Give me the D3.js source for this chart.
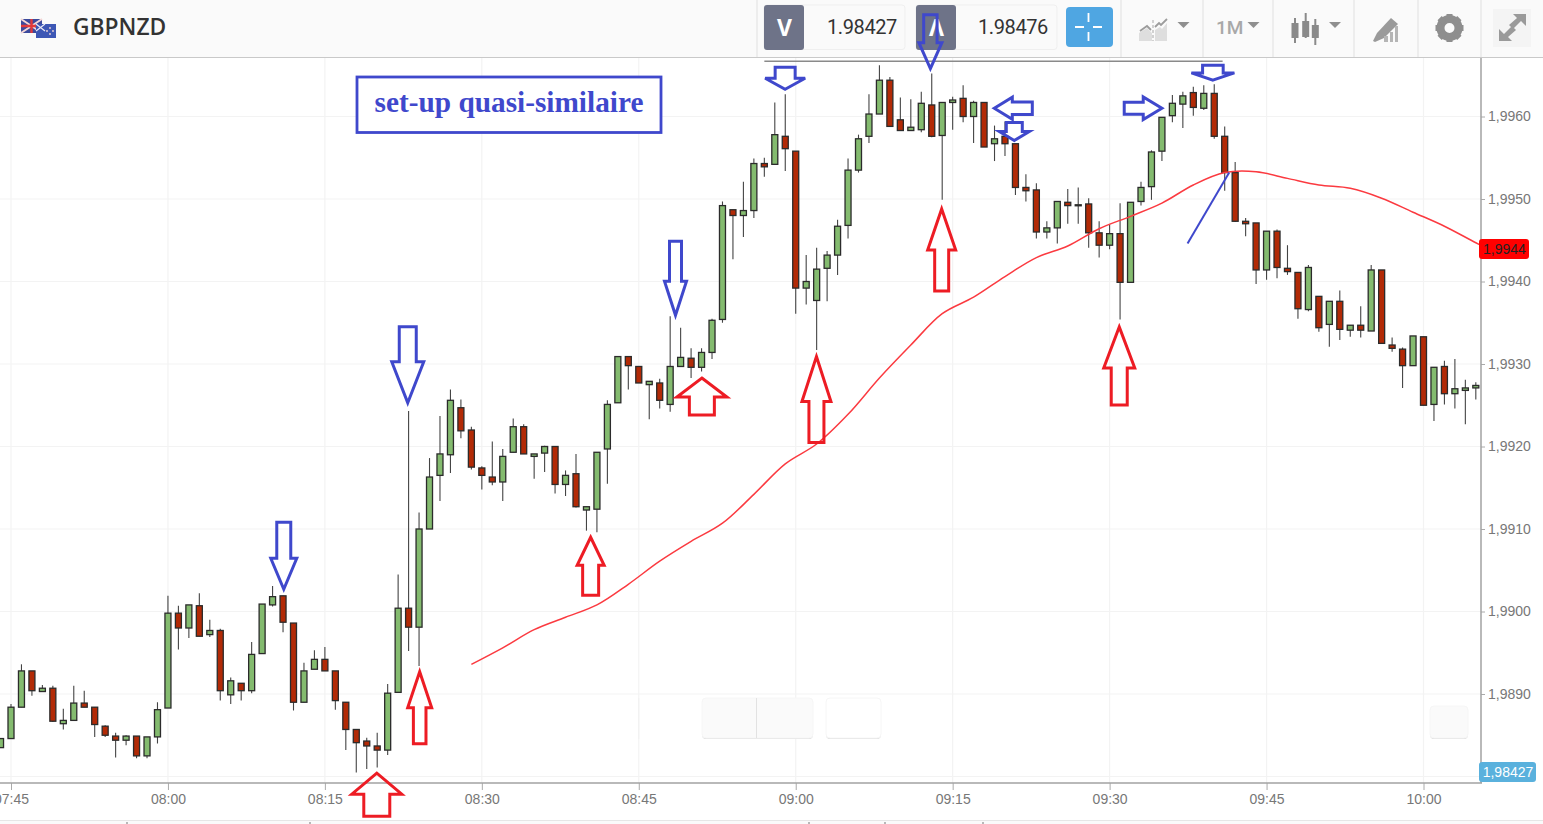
<!DOCTYPE html>
<html lang="en">
<head>
<meta charset="UTF-8">
<title>GBPNZD</title>
<style>
html, body { margin: 0; padding: 0; background: #fff; width: 100%; height: 100%; overflow: hidden; }
svg { display: block; }
</style>
</head>
<body>
<div id="container"></div>
<script src="https://cdnjs.cloudflare.com/ajax/libs/d3/7.8.5/d3.min.js"></script>
<script>
// one candle per minute, first one is 07:44
var opens = [1.98835,1.98846,1.98884,1.98928,1.98903,1.98907,1.98864,1.98868,1.98889,1.98884,1.98861,1.98849,1.98844,1.98849,1.98825,1.98848,1.98883,1.98998,1.98980,1.99007,1.98972,1.98977,1.98899,1.98913,1.98904,1.98949,1.99008,1.99019,1.98986,1.98890,1.98930,1.98942,1.98928,1.98890,1.98857,1.98843,1.98837,1.98832,1.98902,1.99004,1.98981,1.99100,1.99165,1.99190,1.99247,1.99220,1.99174,1.99163,1.99157,1.99193,1.99224,1.99188,1.99192,1.99200,1.99154,1.99167,1.99123,1.99124,1.99197,1.99253,1.99309,1.99297,1.99275,1.99277,1.99251,1.99297,1.99307,1.99296,1.99314,1.99354,1.99487,1.99480,1.99486,1.99543,1.99542,1.99576,1.99558,1.99392,1.99377,1.99416,1.99432,1.99468,1.99535,1.99576,1.99603,1.99644,1.99596,1.99583,1.99584,1.99614,1.99577,1.99617,1.99622,1.99600,1.99617,1.99567,1.99576,1.99567,1.99514,1.99511,1.99460,1.99465,1.99496,1.99492,1.99494,1.99459,1.99444,1.99458,1.99399,1.99497,1.99515,1.99558,1.99601,1.99615,1.99629,1.99610,1.99628,1.99576,1.99532,1.99473,1.99471,1.99414,1.99461,1.99416,1.99411,1.99366,1.99382,1.99348,1.99376,1.99341,1.99347,1.99340,1.99414,1.99323,1.99318,1.99298,1.99333,1.99251,1.99297,1.99264,1.99268,1.99271];
var closes = [1.98846,1.98884,1.98928,1.98904,1.98907,1.98867,1.98868,1.98889,1.98884,1.98863,1.98850,1.98844,1.98849,1.98825,1.98848,1.98881,1.98998,1.98980,1.99008,1.98970,1.98977,1.98904,1.98916,1.98904,1.98948,1.99009,1.99018,1.98987,1.98890,1.98928,1.98942,1.98928,1.98892,1.98857,1.98841,1.98837,1.98832,1.98901,1.99004,1.98981,1.99100,1.99163,1.99191,1.99256,1.99219,1.99175,1.99165,1.99157,1.99188,1.99224,1.99191,1.99191,1.99200,1.99154,1.99165,1.99127,1.99127,1.99193,1.99251,1.99309,1.99298,1.99277,1.99279,1.99256,1.99297,1.99308,1.99296,1.99314,1.99353,1.99492,1.99480,1.99486,1.99543,1.99539,1.99578,1.99561,1.99392,1.99400,1.99415,1.99432,1.99467,1.99535,1.99573,1.99603,1.99644,1.99588,1.99583,1.99587,1.99616,1.99576,1.99617,1.99620,1.99600,1.99617,1.99563,1.99573,1.99567,1.99514,1.99510,1.99460,1.99465,1.99497,1.99492,1.99493,1.99459,1.99444,1.99458,1.99399,1.99496,1.99514,1.99557,1.99599,1.99616,1.99625,1.99611,1.99628,1.99576,1.99532,1.99473,1.99470,1.99414,1.99461,1.99417,1.99412,1.99367,1.99417,1.99344,1.99376,1.99342,1.99347,1.99341,1.99414,1.99325,1.99319,1.99298,1.99334,1.99250,1.99296,1.99264,1.99270,1.99271,1.99274];
var highs = [1.98846,1.98888,1.98936,1.98928,1.98911,1.98910,1.98882,1.98910,1.98904,1.98884,1.98862,1.98853,1.98850,1.98849,1.98848,1.98890,1.99019,1.99007,1.99008,1.99022,1.98990,1.98979,1.98920,1.98913,1.98963,1.99009,1.99031,1.99019,1.98986,1.98938,1.98953,1.98957,1.98928,1.98890,1.98857,1.98847,1.98853,1.98912,1.99045,1.99243,1.99120,1.99186,1.99237,1.99269,1.99257,1.99224,1.99176,1.99206,1.99197,1.99234,1.99227,1.99191,1.99201,1.99200,1.99171,1.99191,1.99127,1.99193,1.99256,1.99309,1.99309,1.99297,1.99279,1.99282,1.99358,1.99344,1.99319,1.99319,1.99355,1.99497,1.99487,1.99521,1.99549,1.99550,1.99617,1.99627,1.99558,1.99432,1.99441,1.99437,1.99475,1.99549,1.99578,1.99627,1.99662,1.99648,1.99623,1.99621,1.99630,1.99652,1.99617,1.99624,1.99638,1.99619,1.99617,1.99589,1.99594,1.99567,1.99530,1.99519,1.99473,1.99497,1.99512,1.99514,1.99501,1.99473,1.99469,1.99495,1.99496,1.99521,1.99559,1.99599,1.99626,1.99630,1.99636,1.99638,1.99639,1.99588,1.99545,1.99477,1.99471,1.99461,1.99463,1.99444,1.99411,1.99420,1.99382,1.99376,1.99389,1.99347,1.99370,1.99420,1.99414,1.99332,1.99320,1.99334,1.99333,1.99296,1.99304,1.99306,1.99281,1.99278];
var lows = [1.98835,1.98846,1.98884,1.98898,1.98903,1.98866,1.98857,1.98868,1.98884,1.98848,1.98848,1.98823,1.98838,1.98822,1.98822,1.98840,1.98883,1.98954,1.98968,1.98970,1.98969,1.98892,1.98888,1.98892,1.98901,1.98949,1.99006,1.98975,1.98880,1.98890,1.98930,1.98928,1.98881,1.98832,1.98805,1.98809,1.98811,1.98826,1.98902,1.98952,1.98934,1.99100,1.99134,1.99168,1.99210,1.99172,1.99148,1.99153,1.99134,1.99193,1.99191,1.99161,1.99169,1.99143,1.99140,1.99126,1.99098,1.99096,1.99155,1.99253,1.99269,1.99277,1.99233,1.99246,1.99242,1.99297,1.99283,1.99291,1.99306,1.99350,1.99427,1.99454,1.99477,1.99527,1.99542,1.99534,1.99361,1.99372,1.99317,1.99376,1.99408,1.99452,1.99532,1.99568,1.99603,1.99588,1.99583,1.99583,1.99581,1.99575,1.99499,1.99584,1.99593,1.99568,1.99563,1.99546,1.99552,1.99505,1.99497,1.99452,1.99452,1.99446,1.99470,1.99470,1.99441,1.99429,1.99439,1.99354,1.99399,1.99492,1.99499,1.99546,1.99593,1.99586,1.99601,1.99608,1.99573,1.99510,1.99472,1.99455,1.99397,1.99402,1.99404,1.99408,1.99355,1.99364,1.99339,1.99321,1.99329,1.99333,1.99332,1.99340,1.99325,1.99315,1.99271,1.99298,1.99250,1.99231,1.99251,1.99246,1.99227,1.99257];

// moving average, minutes after 07:45 and value
var maMinutes = [44,47,50,53,56,59,62,65,68,71,74,77,80,83,86,89,92,95,98,101,104,107,110,113,116,119,122,125,128,131,134,137,140,141];
var maValues = [1.98936,1.98956,1.98978,1.98993,1.99008,1.99033,1.99061,1.99085,1.99107,1.99142,1.99179,1.99203,1.99239,1.99283,1.99323,1.99361,1.99381,1.99406,1.99429,1.99443,1.99464,1.99479,1.99495,1.99517,1.99532,1.99533,1.99525,1.99517,1.99513,1.99501,1.99484,1.99467,1.99447,1.99441];

var priceTicks = [1.9880,1.9890,1.9900,1.9910,1.9920,1.9930,1.9940,1.9950,1.9960];
var timeTickMinutes = [0,15,30,45,60,75,90,105,120,135];
var bidLabel = "1.98427", askLabel = "1.98476", symbol = "GBPNZD";
var maLast = 1.9944, bidTag = "1,98427";

// hand drawn arrows: tip at [minute, price], the rest is shape in px
var blueArrows = [
  {m:26.07, p:1.99027, dir:"down", len:67, sw:7, hw:13, hl:31},
  {m:37.92, p:1.99253, dir:"down", len:76, sw:8.5, hw:16, hl:41},
  {m:63.51, p:1.99359, dir:"down", len:74, sw:6, hw:11, hl:34},
  {m:73.99, p:1.99633, dir:"down", len:22, sw:10, hw:20, hl:11},
  {m:87.87, p:1.99658, dir:"down", len:54, sw:6.7, hw:11.5, hl:26},
  {m:95.89, p:1.99571, dir:"down", len:18, sw:8, hw:15, hl:9},
  {m:114.87, p:1.99644, dir:"down", len:15, sw:10.3, hw:21.5, hl:7.3},
  {m:93.98, p:1.99610, dir:"left", len:38, sw:6.2, hw:11, hl:18},
  {m:110, p:1.99610, dir:"right", len:37.7, sw:6, hw:11.3, hl:18.7}
];
var redArrows = [
  {m:34.96, p:1.98804, dir:"up", len:43, sw:13, hw:25, hl:21},
  {m:39.06, p:1.98927, dir:"up", len:72, sw:6.3, hw:12, hl:36},
  {m:55.4, p:1.99090, dir:"up", len:58, sw:8, hw:13.5, hl:28},
  {m:66.03, p:1.99283, dir:"up", len:37, sw:12.5, hw:25, hl:19},
  {m:76.98, p:1.99309, dir:"up", len:86, sw:7.5, hw:14.5, hl:45},
  {m:88.95, p:1.99488, dir:"up", len:82, sw:7, hw:14, hl:41},
  {m:105.92, p:1.99345, dir:"up", len:78, sw:8, hw:15.5, hl:41}
];

var width = 1543, height = 824;
var plotRight = 1481, plotBottom = 783, plotTop = 58;
var BLUE = "#3f48cc", RED = "#ed1c24", GREY_TXT = "#777";

var svg = d3.select("#container").append("svg").attr("width", width).attr("height", height);

var t0 = new Date(2017, 0, 10, 7, 45);
function atMinute(m) { return new Date(t0.getTime() + m * 60000); }

var x = d3.scaleTime().domain([atMinute(0), atMinute(135)]).range([11, 1423.5]);
var y = d3.scaleLinear().domain([1.9960, 1.9890]).range([116.5, 694]);

var candles = opens.map(function(o, i) {
  return { t: atMinute(i - 1), o: o, c: closes[i], h: highs[i], l: lows[i] };
});

// grid
var grid = svg.append("g");
grid.selectAll("line.h").data(priceTicks).enter().append("line")
  .attr("x1", 0).attr("x2", plotRight)
  .attr("y1", function(d) { return y(d); }).attr("y2", function(d) { return y(d); })
  .attr("stroke", "#f3f3f3").attr("stroke-width", 1.2);
grid.selectAll("line.v").data(timeTickMinutes).enter().append("line")
  .attr("x1", function(d) { return x(atMinute(d)); }).attr("x2", function(d) { return x(atMinute(d)); })
  .attr("y1", plotTop).attr("y2", plotBottom)
  .attr("stroke", "#f3f3f3").attr("stroke-width", 1.2);

// ghost buttons behind the chart
function ghost(bx, by, bw, bh, fill) {
  svg.append("rect").attr("x", bx).attr("y", by + 1).attr("width", bw).attr("height", bh).attr("rx", 4).attr("fill", "#dedede");
  svg.append("rect").attr("x", bx).attr("y", by).attr("width", bw).attr("height", bh).attr("rx", 4)
    .attr("fill", fill).attr("stroke", "#f6f6f6");
}
ghost(702, 698, 111, 40, "#fafafa");
svg.append("line").attr("x1", 756.5).attr("x2", 756.5).attr("y1", 698).attr("y2", 738).attr("stroke", "#e2e2e2");
ghost(826, 698, 55, 40, "#ffffff");
ghost(1430, 706, 38, 32, "#fafafa");
// the grid shows through the middle button
svg.append("line").attr("x1", x(atMinute(60))).attr("x2", x(atMinute(60))).attr("y1", 698).attr("y2", 739).attr("stroke", "#f0f0f0");

// candles
var bodyW = 6;
var cg = svg.append("g").selectAll("g").data(candles).enter().append("g");
cg.append("line")
  .attr("x1", function(d) { return x(d.t); }).attr("x2", function(d) { return x(d.t); })
  .attr("y1", function(d) { return y(d.h); }).attr("y2", function(d) { return y(d.l); })
  .attr("stroke", "#444").attr("stroke-width", 1.1);
cg.append("rect")
  .attr("x", function(d) { return x(d.t) - bodyW / 2; })
  .attr("width", bodyW)
  .attr("y", function(d) { return y(Math.max(d.o, d.c)); })
  .attr("height", function(d) { return Math.max(1, Math.abs(y(d.o) - y(d.c))); })
  .attr("fill", function(d) { return d.c >= d.o ? "#84bb6f" : "#b22a06"; })
  .attr("stroke", "#2b2b2b").attr("stroke-width", 1.3);

// moving average
var maLine = d3.line()
  .x(function(d) { return x(atMinute(d[0])); })
  .y(function(d) { return y(d[1]); })
  .curve(d3.curveCatmullRom);
svg.append("clipPath").attr("id", "plot").append("rect").attr("x", 0).attr("y", plotTop).attr("width", plotRight).attr("height", plotBottom - plotTop);
svg.append("path").datum(maMinutes.map(function(m, i) { return [m, maValues[i]]; }))
  .attr("clip-path", "url(#plot)")
  .attr("d", maLine).attr("fill", "none").attr("stroke", "#fb3a40").attr("stroke-width", 1.5);

// axes
var xAxis = d3.axisBottom(x)
  .tickValues(timeTickMinutes.map(atMinute))
  .tickFormat(d3.timeFormat("%H:%M")).tickSize(7).tickPadding(4);
var gx = svg.append("g").attr("transform", "translate(0," + plotBottom + ")").call(xAxis);
var yAxis = d3.axisRight(y)
  .tickValues(priceTicks.slice(1))
  .tickFormat(function(d) { return d.toFixed(4).replace(".", ","); }).tickSize(4).tickPadding(3);
var gy = svg.append("g").attr("transform", "translate(" + plotRight + ",0)").call(yAxis);
[gx, gy].forEach(function(g) {
  g.select(".domain").remove();
  g.selectAll("line").attr("stroke", "#aaa");
  g.selectAll("text").attr("fill", GREY_TXT).attr("font-family", "Liberation Sans, Arial, sans-serif").attr("font-size", 14);
});
svg.append("line").attr("x1", 0).attr("x2", plotRight + 1).attr("y1", plotBottom).attr("y2", plotBottom).attr("stroke", "#a2a2a2").attr("stroke-width", 1.5);
svg.append("line").attr("x1", plotRight).attr("x2", plotRight).attr("y1", plotTop).attr("y2", plotBottom).attr("stroke", "#a2a2a2").attr("stroke-width", 1.5);

// value tags on the right
function tag(tx, ty, tw, th, fill, color, label, weight) {
  svg.append("rect").attr("x", tx).attr("y", ty).attr("width", tw).attr("height", th).attr("rx", 3).attr("fill", fill);
  svg.append("text").attr("x", tx + tw / 2 + 0.5).attr("y", ty + th / 2 + 5).attr("text-anchor", "middle").attr("font-weight", weight)
    .attr("font-family", "Liberation Sans, Arial, sans-serif").attr("font-size", 14).attr("fill", color).text(label);
}
tag(plotRight - 2, y(maLast) - 9.5, 50, 20, "#ff0000", "#222", maLast.toFixed(4).replace(".", ","), "normal");
tag(plotRight - 2, 762, 57, 20, "#5ab1dd", "#fff", bidTag, "normal");

// bottom strip
svg.append("rect").attr("x", 0).attr("y", 820).attr("width", width).attr("height", 4).attr("fill", "#fafafa");
svg.append("line").attr("x1", 0).attr("x2", width).attr("y1", 820.5).attr("y2", 820.5).attr("stroke", "#e6e6e6");
[127, 310, 809, 885, 983].forEach(function(px) {
  svg.append("line").attr("x1", px).attr("x2", px).attr("y1", 822).attr("y2", 824).attr("stroke", "#777");
});

// arrows
function arrowPath(a) {
  var p = [[0, 0], [a.hw, -a.hl], [a.sw, -a.hl], [a.sw, -a.len], [-a.sw, -a.len], [-a.sw, -a.hl], [-a.hw, -a.hl]];
  var rot = { up: function(q) { return [q[0], -q[1]]; }, down: function(q) { return q; },
              left: function(q) { return [-q[1], q[0]]; }, right: function(q) { return [q[1], q[0]]; } }[a.dir];
  return d3.line()(p.map(rot)) + "Z";
}
function drawArrows(list, color) {
  svg.append("g").selectAll("path").data(list).enter().append("path")
    .attr("transform", function(d) { return "translate(" + x(atMinute(d.m)) + "," + y(d.p) + ")"; })
    .attr("d", arrowPath)
    .attr("fill", "none").attr("stroke", color).attr("stroke-width", 3);
}
drawArrows(redArrows, RED);

// resistance line and the diagonal
svg.append("line")
  .attr("x1", x(atMinute(72))).attr("x2", x(atMinute(115.8)))
  .attr("y1", y(1.99667)).attr("y2", y(1.99667))
  .attr("stroke", "#8a8a8a").attr("stroke-width", 1.5);
svg.append("line")
  .attr("x1", x(atMinute(112.45))).attr("y1", y(1.99446))
  .attr("x2", x(atMinute(116.43))).attr("y2", y(1.99532))
  .attr("stroke", BLUE).attr("stroke-width", 2);

// title box
svg.append("rect").attr("x", 357).attr("y", 77).attr("width", 304).attr("height", 55.5)
  .attr("fill", "#fff").attr("stroke", BLUE).attr("stroke-width", 2.8);
svg.append("text").attr("x", 509).attr("y", 112).attr("text-anchor", "middle")
  .attr("font-family", "Liberation Serif, serif").attr("font-weight", "bold").attr("font-size", 29.3)
  .attr("fill", BLUE).text("set-up quasi-similaire");

// toolbar
svg.append("rect").attr("x", 0).attr("y", 0).attr("width", width).attr("height", 57).attr("fill", "#fafafa");
svg.append("line").attr("x1", 0).attr("x2", width).attr("y1", 57.5).attr("y2", 57.5).attr("stroke", "#c9c9c9").attr("stroke-width", 1.2);

// flags
svg.append("rect").attr("x", 21).attr("y", 19).attr("width", 21).attr("height", 14).attr("fill", "#3c4a9c");
svg.append("path").attr("d", "M21,19L42,33M42,19L21,33").attr("stroke", "#f3d6d6").attr("stroke-width", 2);
svg.append("path").attr("d", "M31.5,19V33M21,26H42").attr("stroke", "#e23a3a").attr("stroke-width", 2.4);
svg.append("rect").attr("x", 36).attr("y", 24).attr("width", 20).attr("height", 14).attr("fill", "#3d57b5");
svg.append("path").attr("d", "M36,24L45,31M45,24L36,31").attr("stroke", "#e9e9f5").attr("stroke-width", 1.2);
[[50, 28], [53, 31], [50, 34], [47, 31]].forEach(function(s) {
  svg.append("circle").attr("cx", s[0]).attr("cy", s[1]).attr("r", 0.9).attr("fill", "#f0d5d5");
});

svg.append("text").attr("x", 73).attr("y", 35).attr("font-family", "Open Sans, sans-serif").attr("font-weight", 600)
  .attr("font-size", 22.8).attr("fill", "#333").text(symbol);

function priceCell(bx, letter, label, lx) {
  svg.append("rect").attr("x", bx).attr("y", 5).attr("width", 141).attr("height", 44.5).attr("rx", 3).attr("fill", "#fafafa").attr("stroke", "#efefef");
  svg.append("rect").attr("x", bx).attr("y", 5).attr("width", 40).attr("height", 45).attr("rx", 3).attr("fill", "#6e7388");
  svg.append("text").attr("x", bx + 20.5).attr("y", 36).attr("text-anchor", "middle").attr("font-family", "Open Sans, sans-serif")
    .attr("font-weight", 700).attr("font-size", 23).attr("fill", "#fff").text(letter);
  svg.append("text").attr("x", lx).attr("y", 34).attr("font-family", "Roboto, sans-serif").attr("font-size", 20)
    .attr("letter-spacing", -0.4).attr("fill", "#333").text(label);
}
priceCell(764, "V", bidLabel, 827);
priceCell(916, "\u039B", askLabel, 978);

// crosshair button
svg.append("rect").attr("x", 1066).attr("y", 7).attr("width", 47).attr("height", 40).attr("rx", 4).attr("fill", "#4fa6e2");
svg.append("path").attr("d", "M1088.5,13V22M1088.5,32V41M1075,27H1084M1093,27H1102").attr("stroke", "#fff").attr("stroke-width", 1.8);

// separators
[757, 1121, 1203, 1273, 1354, 1418, 1481].forEach(function(sx) {
  svg.append("line").attr("x1", sx).attr("x2", sx).attr("y1", 0).attr("y2", 57).attr("stroke", "#e0e0e0");
});

var ICON = "#8f8f8f";
function caret(cx, cy) {
  svg.append("path").attr("d", "M" + (cx - 6) + "," + cy + "h12l-6,6z").attr("fill", ICON);
}
// chart type icon
svg.append("path").attr("d", "M1139,41V33L1147,28L1152,33V41Z M1155,41V30L1160,27L1162,29L1167,23V41Z").attr("fill", "#dedede");
svg.append("path").attr("d", "M1140,31L1147,26L1151,30 M1155,27L1159,23L1161,25L1167,19").attr("fill", "none").attr("stroke", "#9c9c9c").attr("stroke-width", 1.8);
svg.append("line").attr("x1", 1153).attr("x2", 1153).attr("y1", 20).attr("y2", 41).attr("stroke", "#a8a8a8").attr("stroke-dasharray", "3,2");
caret(1183.5, 22);
// period
svg.append("text").attr("x", 1216).attr("y", 34).attr("font-family", "Roboto, sans-serif").attr("font-weight", 500)
  .attr("font-size", 19).attr("fill", "#a8a8a8").text("1M");
caret(1253.5, 22);
// candle icon
[[1295, 23, 38, 18, 43], [1305.7, 21, 37, 13, 38], [1315.3, 25, 38, 19, 45]].forEach(function(c) {
  svg.append("line").attr("x1", c[0]).attr("x2", c[0]).attr("y1", c[3]).attr("y2", c[4]).attr("stroke", "#8a8a8a").attr("stroke-width", 2);
  svg.append("rect").attr("x", c[0] - 3.5).attr("y", c[1]).attr("width", 7).attr("height", c[2] - c[1]).attr("fill", "#8a8a8a");
});
caret(1335, 22);
// pencil icon
svg.append("path").attr("d", "M1373,41L1377,33L1391,18L1398,24L1384,38L1375,42Z").attr("fill", "#9a9a9a");
svg.append("path").attr("d", "M1384,36h4v6h-4z M1390,32h3v10h-3z M1395,26h3v16h-3z").attr("fill", "#b5b5b5");
// gear
svg.append("circle").attr("cx", 1449.5).attr("cy", 28).attr("r", 9).attr("fill", "none").attr("stroke", "#8e8e8e").attr("stroke-width", 8);
d3.range(8).forEach(function(i) {
  svg.append("rect").attr("x", 1446.5).attr("y", 14).attr("width", 6).attr("height", 6).attr("fill", "#8e8e8e")
    .attr("transform", "rotate(" + (i * 45) + " 1449.5 28)");
});
// expand
svg.append("rect").attr("x", 1493).attr("y", 9).attr("width", 38).attr("height", 38).attr("fill", "#f4f4f4");
svg.append("path").attr("d", "M1526,14H1513L1517,18L1509,25L1513,29L1521,21L1526,26Z M1499,41H1512L1508,37L1516,30L1512,26L1504,34L1499,29Z").attr("fill", "#9a9a9a");

// blue arrows are on top of the toolbar
drawArrows(blueArrows, BLUE);
</script>
</body>
</html>
